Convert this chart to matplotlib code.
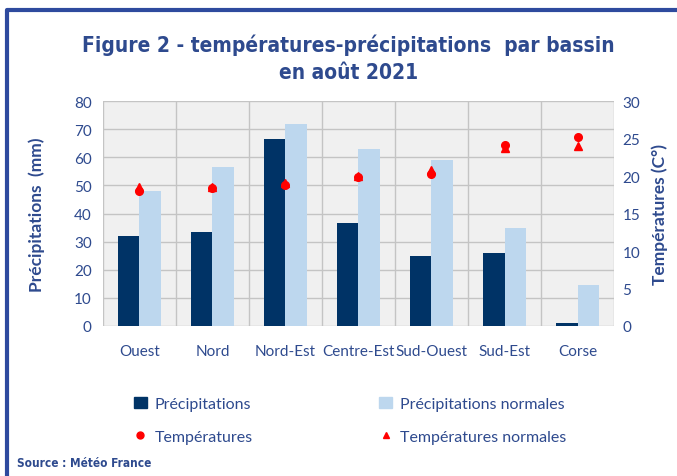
import numpy as np
import matplotlib.pyplot as plt
from matplotlib.lines import Line2D
from matplotlib.patches import Patch

bassins = ["Ouest", "Nord", "Nord-Est", "Centre-Est", "Sud-Ouest", "Sud-Est", "Corse"]
precip = [32, 33.5, 66.5, 36.7, 25, 26, 1]
precip_norm = [48, 56.5, 72, 63, 59, 35, 14.5]
temp = [18.0, 18.4, 18.8, 19.9, 20.3, 24.2, 25.2]
temp_norm = [18.6, 18.6, 19.1, 20.0, 20.8, 23.7, 24.0]

blue_txt = "#2e4a8e"
dark = "#003366"
light = "#bdd7ee"

plt.rcParams["font.family"] = ["Lato", "DejaVu Sans"]

fig = plt.figure(figsize=(6.77, 4.77), dpi=100)
ax = fig.add_axes([0.152, 0.3145, 0.755, 0.4715])
ax2 = ax.twinx()

x = np.arange(len(bassins))
w = 0.29
ax.set_facecolor("#f0f0f0")
ax.bar(x - w / 2, precip, w, color=dark, zorder=3)
ax.bar(x + w / 2, precip_norm, w, color=light, zorder=3)
ax.set_xlim(-0.5, len(bassins) - 0.5)
ax.set_ylim(0, 80)
ax.set_yticks(range(0, 81, 10))
ax.set_xticks(x)
ax.set_xticklabels(bassins)
ax.set_xticks(np.arange(-0.5, len(bassins)), minor=True)
ax.grid(True, which="minor", axis="x", color="#c4c4c4", lw=1, zorder=0)
ax.grid(True, which="major", axis="y", color="#c4c4c4", lw=1, zorder=0)
ax.tick_params(which="both", length=0)
ax.tick_params(axis="x", pad=13)
ax.tick_params(axis="y", pad=8)
for t in ax.get_xticklabels() + ax.get_yticklabels():
    t.set_color(blue_txt)
    t.set_fontsize(11)
ax.set_ylabel("Précipitations  (mm)", color=blue_txt, fontsize=12.5, fontweight="bold", labelpad=21)
for s in ax.spines.values():
    s.set_visible(False)

ax2.plot(x, temp_norm, "^", color="red", ms=5.5, zorder=4)
ax2.plot(x, temp, "o", color="red", ms=5.5, zorder=5)
ax2.set_ylim(0, 30)
ax2.set_yticks(range(0, 31, 5))
ax2.tick_params(length=0, labelsize=11, labelcolor=blue_txt, pad=6)
ax2.set_ylabel("Températures (C°)", color=blue_txt, fontsize=12.5, fontweight="bold", labelpad=8)
for s in ax2.spines.values():
    s.set_visible(False)

title_font = dict(fontsize=15, fontweight="bold", color=blue_txt, fontstretch="condensed",
                  family=["DejaVu Sans", "Liberation Sans Narrow"])
fig.text(0.515, 0.905, "Figure 2 - températures-précipitations  par bassin", ha="center", va="center", **title_font)
fig.text(0.515, 0.848, "en août 2021", ha="center", va="center", **title_font)

handles = [Patch(color=dark), Line2D([], [], marker="o", color="red", ls="", ms=5),
           Patch(color=light), Line2D([], [], marker="^", color="red", ls="", ms=5)]
labels = ["Précipitations", "Températures", "Précipitations normales", "Températures normales"]
leg = fig.legend(handles, labels, ncol=2, loc="upper left", bbox_to_anchor=(0.198, 0.165), frameon=False,
                 fontsize=11.5, columnspacing=7.9, handlelength=0.8, handletextpad=0.5, labelspacing=1.15,
                 borderaxespad=0, borderpad=0)
for t in leg.get_texts():
    t.set_color(blue_txt)

fig.text(0.025, 0.022, "Source : Météo France", fontsize=8.5, fontweight="bold", color=blue_txt,
         fontstretch="condensed", family=["DejaVu Sans"])

fig.add_artist(Line2D([0.011, 0.011, 1.0], [0.0, 0.977, 0.977], color="#2e4a9e", lw=3,
                      transform=fig.transFigure))

fig.savefig("out.png", dpi=100)
